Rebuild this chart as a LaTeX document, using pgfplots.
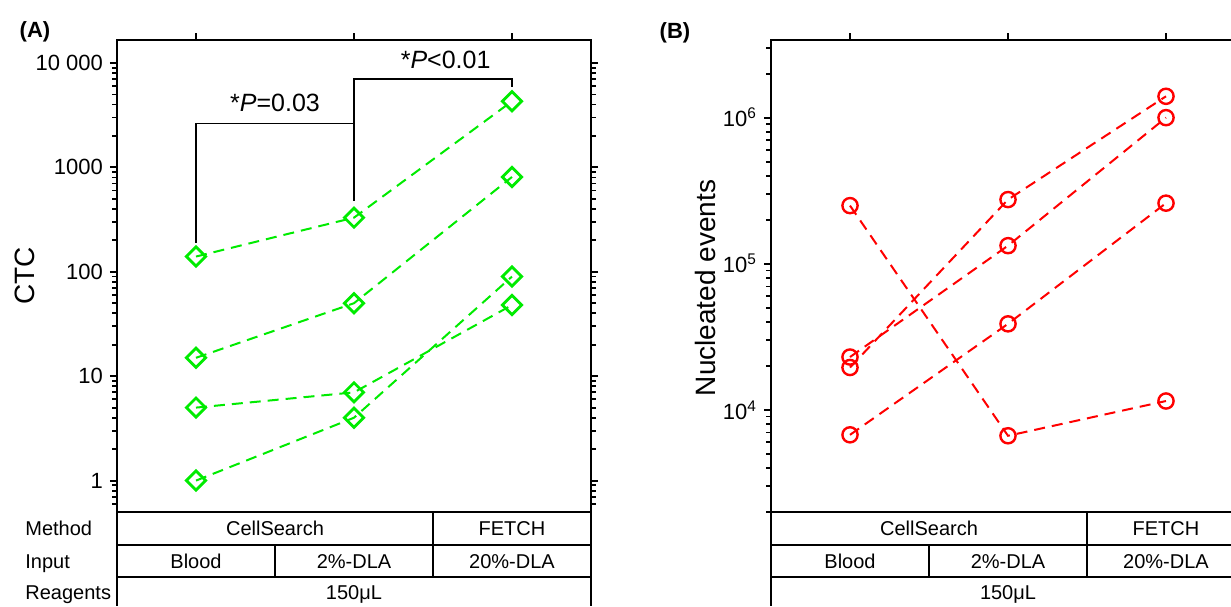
\documentclass[border=0pt]{standalone}
\usepackage{fontspec}
\setmainfont{Liberation Sans}
\usepackage{pgfplots}
\pgfplotsset{compat=1.18}

\definecolor{ctcgreen}{RGB}{0,235,0}
\definecolor{nucred}{RGB}{255,0,0}

\pgfplotsset{
  figpanel/.style={
    scale only axis,
    width=237pt, height=236pt,
    anchor=north west,
    xmin=-0.5, xmax=2.5,
    xtick={0,1,2}, xticklabels={},
    xtick pos=right, xticklabel pos=right,
    tick align=outside,
    major tick length=3.5pt, minor tick length=2.3pt,
    every major tick/.style={black, line width=1pt},
    every minor tick/.style={black, line width=0.9pt},
    axis line style={line width=1pt},
    tick label style={font=\fontsize{11}{13}\selectfont},
    /pgf/number format/assume math mode=true,
    ylabel style={font=\fontsize{14}{16}\selectfont, anchor=center},
    clip=false,
  },
  gline/.style={ctcgreen, line width=1pt, dash pattern=on 5.5pt off 3.5pt,
    mark=square, mark size=3.4pt,
    mark options={solid, rotate=45, line width=1.4pt, fill=white}},
  rline/.style={nucred, line width=1pt, dash pattern=on 5.5pt off 3.5pt,
    mark=o, mark size=3.8pt,
    mark options={solid, line width=1.2pt, fill=white}},
}

% category table under each panel (baselines 3.6pt below row centres)
\newcommand{\celltable}[1]{%
  \begin{scope}[xshift=#1pt, line width=1pt, font=\fontsize{10}{12}\selectfont,
      every node/.style={anchor=base, inner sep=0pt}]
    \draw (0pt,-256pt) -- (0pt,-303pt);
    \draw (237pt,-256pt) -- (237pt,-303pt);
    \draw (0pt,-272.5pt) -- (237pt,-272.5pt);
    \draw (0pt,-288.5pt) -- (237pt,-288.5pt);
    \draw (158pt,-256pt) -- (158pt,-288.5pt);
    \draw (79pt,-272.5pt) -- (79pt,-288.5pt);
    \node at (79pt,-267.9pt) {CellSearch};
    \node at (197.5pt,-267.9pt) {FETCH};
    \node at (39.5pt,-284.1pt) {Blood};
    \node at (118.5pt,-284.1pt) {2\%-DLA};
    \node at (197.5pt,-284.1pt) {20\%-DLA};
    \node at (118.5pt,-299.9pt) {150μL};
  \end{scope}}

\begin{document}
\begin{tikzpicture}

% (A) CTC counts
\begin{axis}[figpanel, ymode=log, at={(58.5pt,-20pt)},
    ymin=0.5, ymax=16600,
    ytick={1,10,100,1000,10000},
    yticklabels={1,10,100,1000,10 000},
    minor ytick={0.6,0.7,0.8,0.9,2,3,4,5,6,7,8,9,20,30,40,50,60,70,80,90,
      200,300,400,500,600,700,800,900,2000,3000,4000,5000,6000,7000,8000,9000},
    ylabel={CTC},
    ylabel style={at={([xshift=-46pt]axis description cs:0,0.5)}},
  ]
  \addplot[gline] coordinates {(0,140) (1,330) (2,4300)};
  \addplot[gline] coordinates {(0,15) (1,50) (2,810)};
  \addplot[gline] coordinates {(0,5) (1,7) (2,48)};
  \addplot[gline] coordinates {(0,1) (1,4) (2,90)};
  \draw[line width=0.8pt] (axis cs:0,190) |- (axis cs:1,2640) -- (axis cs:1,473);
  \draw[line width=0.8pt] (axis cs:1,2640) |- (axis cs:2,7040) -- (axis cs:2,5840);
  \node[font=\fontsize{12.5}{14}\selectfont] at (axis cs:0.5,4190) {*\textit{P}=0.03};
  \node[font=\fontsize{12.5}{14}\selectfont] at (axis cs:1.58,10700) {*\textit{P}<0.01};
\end{axis}

% (B) nucleated events
\begin{axis}[figpanel, ymode=log, at={(385.5pt,-20pt)},
    ymin=2000, ymax=3400000,
    ytick={10000,100000,1000000},
    yticklabels={10\textsuperscript{4},10\textsuperscript{5},10\textsuperscript{6}},
    minor ytick={2000,3000,4000,5000,6000,7000,8000,9000,
      20000,30000,40000,50000,60000,70000,80000,90000,
      200000,300000,400000,500000,600000,700000,800000,900000,
      2000000,3000000},
    ylabel={Nucleated events},
    ylabel style={at={([xshift=-33pt,yshift=-6pt]axis description cs:0,0.5)}},
  ]
  \addplot[rline] coordinates {(0,250000) (1,6650) (2,11500)};
  \addplot[rline] coordinates {(0,6750) (1,38800) (2,260000)};
  \addplot[rline] coordinates {(0,19500) (1,275000) (2,1400000)};
  \addplot[rline] coordinates {(0,23000) (1,133000) (2,1000000)};
\end{axis}

\celltable{58.5}
\celltable{385.5}

% row headers
\begin{scope}[font=\fontsize{10}{12}\selectfont, every node/.style={anchor=base west, inner sep=0pt}]
  \node at (12.5pt,-267.9pt) {Method};
  \node at (12.5pt,-284.1pt) {Input};
  \node at (12.5pt,-299.9pt) {Reagents};
\end{scope}

\node[font=\fontsize{11}{13}\selectfont\bfseries] at (17.5pt,-16pt) {(A)};
\node[font=\fontsize{11}{13}\selectfont\bfseries] at (337.5pt,-16.5pt) {(B)};

\pgfresetboundingbox
\path[use as bounding box] (0pt,0pt) rectangle (615.5pt,-303pt);
\end{tikzpicture}
\end{document}
